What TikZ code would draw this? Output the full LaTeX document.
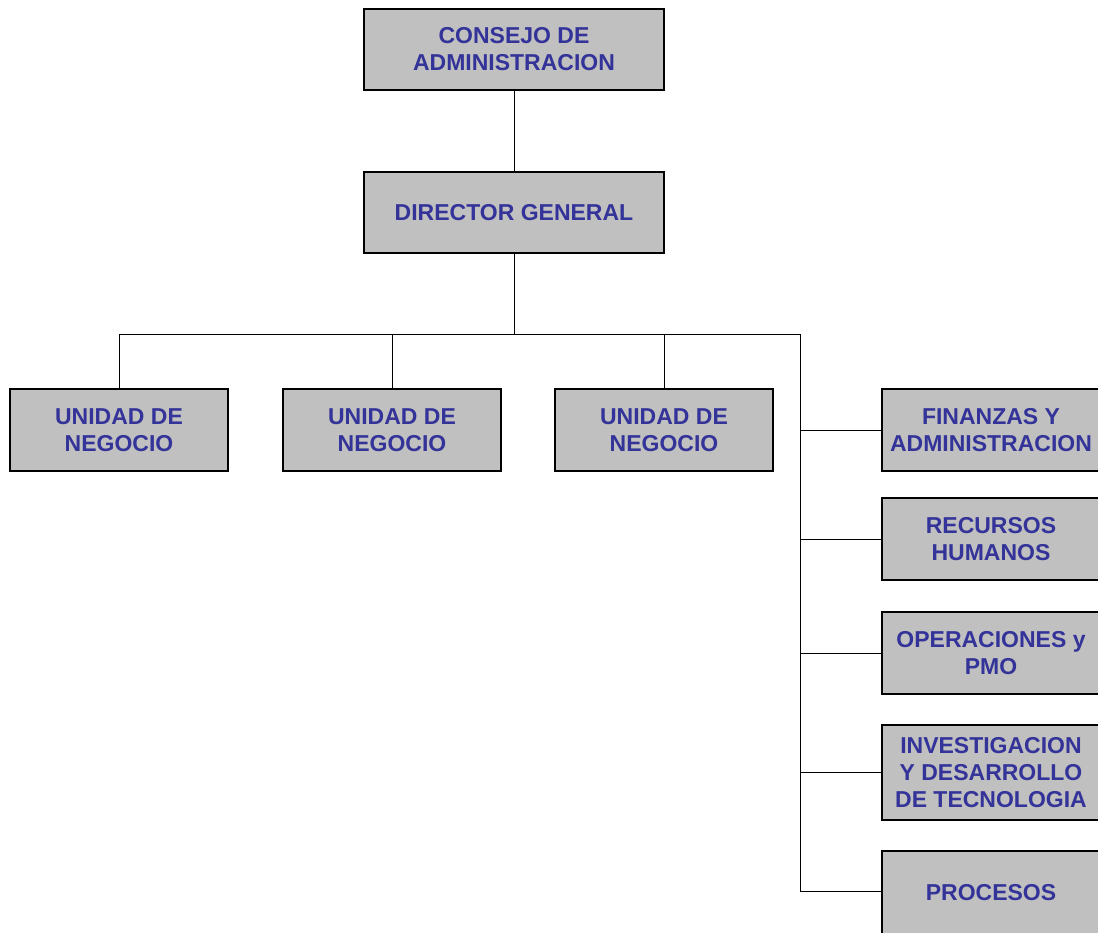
\documentclass[tikz,border=0pt]{standalone}
\usepackage{fontspec}
\setmainfont{Liberation Sans}
\definecolor{txtblue}{HTML}{333399}
\definecolor{boxgray}{HTML}{C0C0C0}
\begin{document}
\begin{tikzpicture}[x=1pt,y=-1pt,
  orgbox/.style={draw=black, line width=1.2pt, fill=boxgray, minimum width=#1, inner sep=0pt,
    font=\fontsize{23}{27}\selectfont\bfseries, text=txtblue, align=center},
  orgbox/.default=300pt,
  link/.style={draw=black, line width=0.9pt}]
\useasboundingbox (0,0) rectangle (1098,932);
\node[orgbox=300pt, minimum height=81pt] (cons) at (514,49.5) {CONSEJO DE\\ADMINISTRACION};
\node[orgbox=300pt, minimum height=81pt] (dir) at (514,212.5) {DIRECTOR GENERAL};
\node[orgbox=218pt, minimum height=82pt] (u1) at (119,430) {UNIDAD DE\\NEGOCIO};
\node[orgbox=218pt, minimum height=82pt] (u2) at (392,430) {UNIDAD DE\\NEGOCIO};
\node[orgbox=218pt, minimum height=82pt] (u3) at (664,430) {UNIDAD DE\\NEGOCIO};
\node[orgbox=218pt, minimum height=82pt] (fin) at (991,430) {FINANZAS Y\\ADMINISTRACION};
\node[orgbox=218pt, minimum height=82pt] (rh) at (991,539) {RECURSOS\\HUMANOS};
\node[orgbox=218pt, minimum height=82pt] (op) at (991,653) {OPERACIONES y\\PMO};
\node[orgbox=218pt, minimum height=95pt] (inv) at (991,772.5) {INVESTIGACION\\Y DESARROLLO\\DE TECNOLOGIA};
\node[orgbox=218pt, minimum height=84pt] (proc) at (991,893) {PROCESOS};
\coordinate (bus) at (514,334);
\coordinate (rv) at (800,334);
\coordinate (pj) at (800,891);
\draw[link] (cons.south) -- (dir.north);
\draw[link] (dir.south) -- (bus);
\draw[link] (u1.north) -- (u1.north |- bus) -- (rv) -- (pj) -- (pj -| proc.west);
\draw[link] (u2.north) -- (u2.north |- bus);
\draw[link] (u3.north) -- (u3.north |- bus);
\draw[link] (rv |- fin.west) -- (fin.west);
\draw[link] (rv |- rh.west) -- (rh.west);
\draw[link] (rv |- op.west) -- (op.west);
\draw[link] (rv |- inv.west) -- (inv.west);
\end{tikzpicture}
\end{document}
